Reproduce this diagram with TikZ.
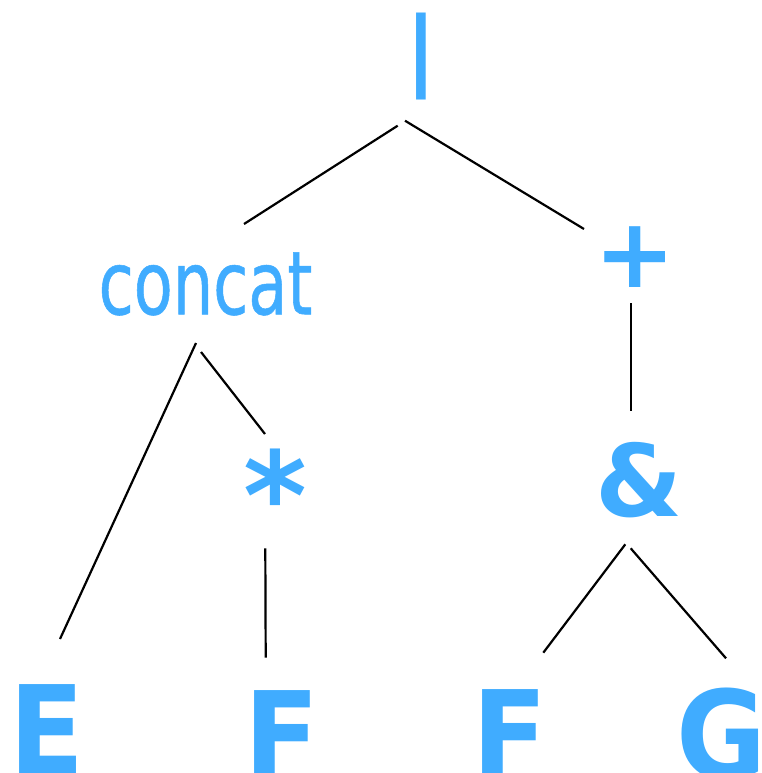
\documentclass[tikz,border=0pt]{standalone}
\usepackage{fontspec}
\usepackage{xcolor}
\usepackage{tikz}
\setmainfont{DejaVu Sans}
\newfontfamily\opfont{DejaVu Sans Bold}
\newfontfamily\leaffont[FakeStretch=0.9]{DejaVu Sans Bold}
\newfontfamily\wordfont[FakeStretch=0.725,FakeBold=0.6]{DejaVu Sans}
\definecolor{treeblue}{RGB}{64,172,255}

\begin{document}
\begin{tikzpicture}[x=1pt, y=-1pt,
  op/.style={inner sep=0pt, text=treeblue, font=\opfont\fontsize{#1}{#1}\selectfont},
  leaf/.style={inner sep=0pt, anchor=north, text=treeblue, font=\leaffont\fontsize{122}{122}\selectfont},
  word/.style={inner sep=0pt, text=treeblue, font=\wordfont\fontsize{88}{88}\selectfont},
  edge/.style={line width=2.2pt}
]
  \useasboundingbox (0,0) rectangle (761,773);

  % operators
  \node[op=87] (alt) at (421.8,56.3) {|};
  \node[word] (concat) at (205.5,284) {concat};
  \node[op=97] (plus) at (635,257.3) {+};
  \node[op=122] (star) at (275,494) {*};
  \node[op=100] (amp) at (639,480.2) {\&};

  % leaves
  \node[leaf] (e) at (47,684.3) {E};
  \node[leaf] (f1) at (281.5,690) {F};
  \node[leaf] (f2) at (510,689.3) {F};
  \node[leaf] (g) at (722,687.3) {G};

  % edges
  \draw[edge] ([shift={(-24.1,69.4)}]alt.center) -- ([shift={(38.5,-60)}]concat.center);
  \draw[edge] ([shift={(-16.8,64.4)}]alt.center) -- ([shift={(-51,-28.3)}]plus.center);
  \draw[edge] ([shift={(-9.5,59)}]concat.center) -- ([shift={(13,-45.3)}]e.north);
  \draw[edge] ([shift={(-4.5,68)}]concat.center) -- ([shift={(-10,-60)}]star.center);
  \draw[edge] ([shift={(-9.7,54.3)}]star.center) -- ([shift={(-15.8,-32.3)}]f1.north);
  \draw[edge] ([shift={(-4,45.7)}]plus.center) -- ([shift={(-8,-69.2)}]amp.center);
  \draw[edge] ([shift={(-13.7,64.1)}]amp.center) -- ([shift={(33.3,-36.6)}]f2.north);
  \draw[edge] ([shift={(-8.3,68.1)}]amp.center) -- ([shift={(4,-29)}]g.north);
\end{tikzpicture}
\end{document}
